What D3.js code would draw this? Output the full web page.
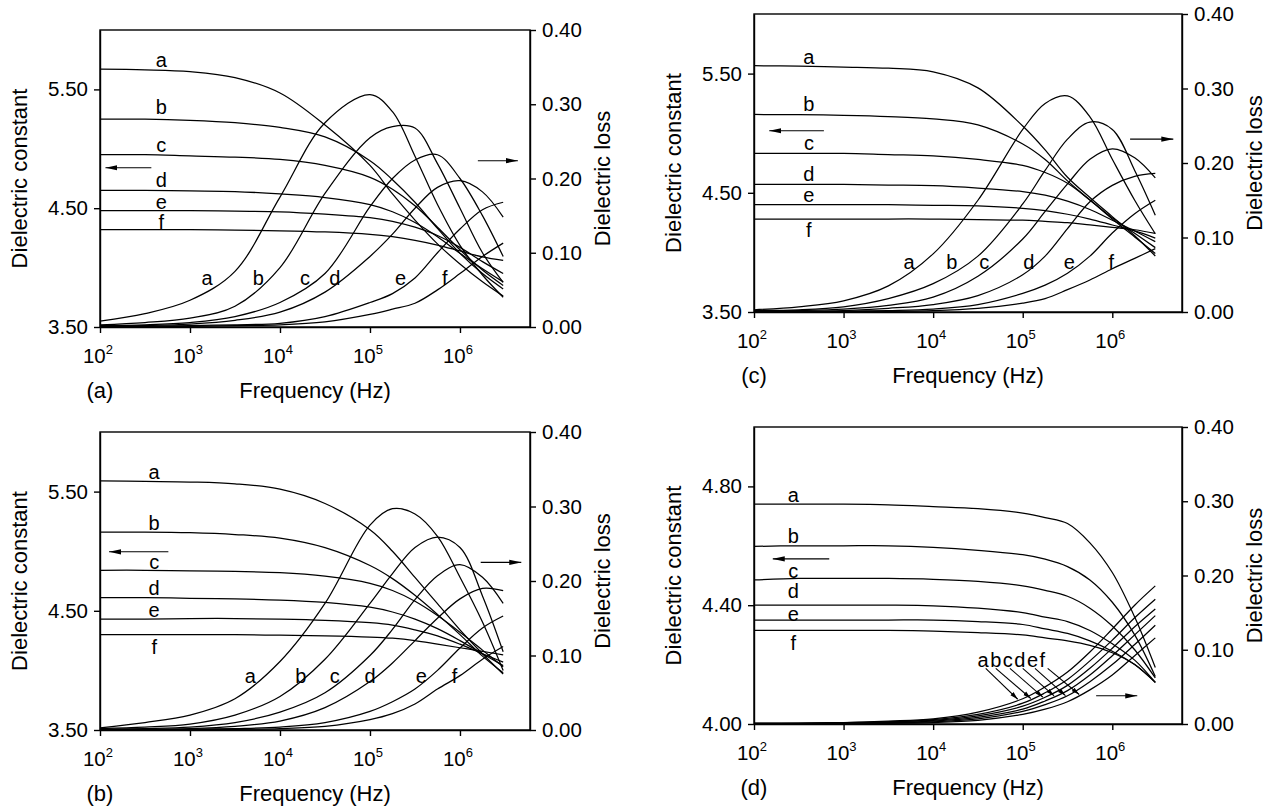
<!DOCTYPE html>
<meta charset="utf-8">
<style>
body { margin: 0; background: #fff; }
svg { display: block; }
text { font-family: "Liberation Sans", Arial, Helvetica, sans-serif; fill: #000; }
.tick text { font-size: 20.5px; }
.curve { fill: none; stroke: #000; stroke-width: 1.25px; }
.frame { fill: none; stroke: #000; stroke-width: 1.4px; }
.axis path, .axis line { stroke: #000; stroke-width: 1.4px; }
.lab { font-size: 20px; }
.title { font-size: 22px; }
.pointer { stroke: #000; stroke-width: 1.1px; }
</style>
<svg width="1282" height="810"></svg>
<script src="https://d3js.org/d3.v7.min.js"></script>
<script>

var svg = d3.select("svg");

var curveNames = ["a", "b", "c", "d", "e", "f"];

// common frequency grid (Hz), 10^2 ... ~3x10^6
var freqs = [100, 316, 1000, 3162, 10000, 31623, 100000, 177828, 316228, 562341, 1000000, 1778279, 3020000];

var freqTicks = [1e2, 1e3, 1e4, 1e5, 1e6];
var lossTicks = [0, 0.1, 0.2, 0.3, 0.4];
var constTicks = [3.5, 4.5, 5.5];
var constTicksD = [4.0, 4.4, 4.8];

// (a) dielectric constant / loss, curves a..f
var constA = [
  [5.67, 5.665, 5.65, 5.60, 5.47, 5.20, 4.86, 4.62, 4.40, 4.20, 4.03, 3.88, 3.76],
  [5.25, 5.25, 5.24, 5.22, 5.18, 5.10, 4.90, 4.74, 4.55, 4.33, 4.12, 3.95, 3.82],
  [4.95, 4.95, 4.94, 4.93, 4.91, 4.86, 4.76, 4.66, 4.52, 4.34, 4.15, 3.98, 3.85],
  [4.65, 4.65, 4.645, 4.64, 4.62, 4.59, 4.53, 4.47, 4.38, 4.26, 4.12, 3.99, 3.88],
  [4.48, 4.48, 4.48, 4.475, 4.47, 4.45, 4.42, 4.39, 4.34, 4.27, 4.17, 4.05, 3.95],
  [4.32, 4.32, 4.32, 4.315, 4.31, 4.30, 4.28, 4.26, 4.23, 4.19, 4.14, 4.09, 4.06]
];
var lossA = [
  [0.008, 0.018, 0.036, 0.075, 0.175, 0.275, 0.313, 0.29, 0.23, 0.165, 0.11, 0.07, 0.04],
  [0.003, 0.006, 0.012, 0.028, 0.08, 0.18, 0.255, 0.27, 0.268, 0.22, 0.16, 0.10, 0.06],
  [0.002, 0.003, 0.006, 0.014, 0.033, 0.072, 0.162, 0.20, 0.225, 0.232, 0.20, 0.15, 0.095],
  [0.001, 0.002, 0.004, 0.009, 0.02, 0.047, 0.095, 0.125, 0.16, 0.188, 0.197, 0.182, 0.148],
  [0.001, 0.001, 0.002, 0.003, 0.005, 0.014, 0.033, 0.045, 0.066, 0.10, 0.132, 0.158, 0.168],
  [0, 0, 0.001, 0.002, 0.003, 0.007, 0.017, 0.024, 0.032, 0.05, 0.072, 0.095, 0.113]
];

// (b)
var constB = [
  [5.59, 5.585, 5.58, 5.565, 5.52, 5.40, 5.18, 5.00, 4.78, 4.56, 4.34, 4.14, 3.97],
  [5.16, 5.16, 5.155, 5.14, 5.11, 5.03, 4.88, 4.77, 4.63, 4.47, 4.30, 4.12, 3.98],
  [4.84, 4.84, 4.835, 4.83, 4.82, 4.79, 4.73, 4.67, 4.58, 4.46, 4.32, 4.17, 4.03],
  [4.61, 4.61, 4.605, 4.60, 4.59, 4.57, 4.53, 4.49, 4.43, 4.35, 4.25, 4.14, 4.04],
  [4.43, 4.43, 4.435, 4.435, 4.43, 4.42, 4.40, 4.38, 4.34, 4.29, 4.22, 4.14, 4.07],
  [4.30, 4.30, 4.30, 4.30, 4.295, 4.29, 4.28, 4.27, 4.25, 4.22, 4.19, 4.16, 4.13]
];
var lossB = [
  [0.003, 0.01, 0.02, 0.042, 0.092, 0.17, 0.275, 0.297, 0.29, 0.26, 0.205, 0.145, 0.08],
  [0.002, 0.004, 0.008, 0.02, 0.045, 0.095, 0.17, 0.21, 0.245, 0.259, 0.245, 0.18, 0.105],
  [0.001, 0.002, 0.004, 0.01, 0.024, 0.05, 0.10, 0.135, 0.175, 0.207, 0.222, 0.205, 0.17],
  [0.001, 0.001, 0.002, 0.005, 0.012, 0.03, 0.065, 0.09, 0.12, 0.15, 0.176, 0.19, 0.187],
  [0, 0.001, 0.001, 0.002, 0.004, 0.01, 0.025, 0.038, 0.055, 0.08, 0.11, 0.137, 0.153],
  [0, 0, 0.001, 0.001, 0.002, 0.005, 0.014, 0.022, 0.035, 0.055, 0.073, 0.095, 0.112]
];

// (c)
var constC = [
  [5.566, 5.563, 5.555, 5.545, 5.515, 5.38, 5.06, 4.86, 4.63, 4.46, 4.30, 4.14, 3.97],
  [5.157, 5.155, 5.15, 5.14, 5.12, 5.07, 4.91, 4.78, 4.60, 4.44, 4.28, 4.13, 3.99],
  [4.83, 4.83, 4.83, 4.82, 4.81, 4.78, 4.73, 4.67, 4.58, 4.44, 4.29, 4.16, 4.04],
  [4.57, 4.57, 4.57, 4.565, 4.56, 4.54, 4.51, 4.48, 4.43, 4.36, 4.27, 4.18, 4.09],
  [4.40, 4.40, 4.40, 4.40, 4.395, 4.39, 4.37, 4.35, 4.32, 4.28, 4.23, 4.18, 4.12],
  [4.28, 4.28, 4.28, 4.28, 4.28, 4.275, 4.27, 4.26, 4.25, 4.23, 4.21, 4.19, 4.16]
];
var lossC = [
  [0.003, 0.007, 0.015, 0.035, 0.078, 0.15, 0.245, 0.28, 0.29, 0.262, 0.205, 0.15, 0.105],
  [0.002, 0.003, 0.007, 0.018, 0.038, 0.075, 0.145, 0.19, 0.232, 0.255, 0.245, 0.19, 0.13],
  [0.001, 0.002, 0.004, 0.009, 0.02, 0.048, 0.098, 0.135, 0.172, 0.205, 0.219, 0.207, 0.18],
  [0.001, 0.001, 0.002, 0.005, 0.01, 0.022, 0.05, 0.075, 0.112, 0.148, 0.17, 0.182, 0.186],
  [0.001, 0.001, 0.001, 0.002, 0.004, 0.01, 0.025, 0.036, 0.052, 0.075, 0.106, 0.132, 0.15],
  [0, 0, 0.001, 0.001, 0.002, 0.005, 0.012, 0.018, 0.03, 0.043, 0.058, 0.072, 0.085]
];

// (d)
var constD = [
  [4.74, 4.74, 4.74, 4.738, 4.732, 4.725, 4.71, 4.695, 4.675, 4.61, 4.51, 4.36, 4.19],
  [4.598, 4.60, 4.60, 4.60, 4.595, 4.585, 4.57, 4.555, 4.53, 4.485, 4.41, 4.30, 4.16],
  [4.485, 4.49, 4.49, 4.49, 4.487, 4.48, 4.465, 4.45, 4.43, 4.39, 4.33, 4.25, 4.155],
  [4.40, 4.40, 4.40, 4.40, 4.398, 4.39, 4.375, 4.36, 4.345, 4.315, 4.27, 4.215, 4.14],
  [4.35, 4.35, 4.35, 4.35, 4.35, 4.345, 4.335, 4.32, 4.305, 4.28, 4.245, 4.20, 4.14],
  [4.315, 4.315, 4.315, 4.315, 4.313, 4.308, 4.30, 4.29, 4.28, 4.265, 4.24, 4.20, 4.14]
];
var lossD = [
  [0.001, 0.001, 0.002, 0.004, 0.007, 0.016, 0.034, 0.05, 0.07, 0.097, 0.128, 0.16, 0.186],
  [0.001, 0.001, 0.002, 0.003, 0.006, 0.013, 0.028, 0.042, 0.06, 0.085, 0.113, 0.143, 0.168],
  [0.001, 0.001, 0.001, 0.003, 0.005, 0.011, 0.024, 0.036, 0.052, 0.075, 0.102, 0.131, 0.155],
  [0.001, 0.001, 0.001, 0.002, 0.004, 0.009, 0.02, 0.031, 0.045, 0.066, 0.092, 0.12, 0.146],
  [0, 0.001, 0.001, 0.002, 0.003, 0.007, 0.017, 0.026, 0.038, 0.057, 0.08, 0.107, 0.133],
  [0, 0, 0.001, 0.001, 0.002, 0.005, 0.013, 0.02, 0.03, 0.046, 0.066, 0.092, 0.116]
];

// curve-letter annotations (data units)
var constLabelA = [5.747, 5.352, 5.032, 4.737, 4.552, 4.384];
var constLabelB = [5.664, 5.237, 4.909, 4.691, 4.507, 4.196];
var constLabelC = [5.639, 5.245, 4.918, 4.658, 4.482, 4.188];
var constLabelD = [4.771, 4.633, 4.515, 4.447, 4.372, 4.273];
var lossLabelFreqA = [1550, 5750, 19000, 40700, 219000, 676000];
var lossLabelFreqB = [4680, 17000, 40700, 100000, 372000, 871000];
var lossLabelFreqC = [5370, 16200, 37200, 117000, 331000, 977000];
// (d): pointer lines from "abcdef" down to the loss curves
var pointerStartD = [38600, 50000, 72000, 100000, 137000, 190000];
var pointerTipD = [88000, 123000, 168000, 224000, 300000, 427000];

var panels = [
  { tag: "(a)", left: 100, right: 530, top: 30, bottom: 327,
    cDomain: [3.5, 6.0], cTicks: constTicks, cons: constA, loss: lossA,
    cLabF: 480, cLab: constLabelA, lLabF: lossLabelFreqA, lLab: 0.066,
    arrowL: [372, 115, 4.84], arrowR: [1.58e6, 4.4e6, 0.224] },
  { tag: "(b)", left: 100, right: 530, top: 432, bottom: 730,
    cDomain: [3.5, 6.0], cTicks: constTicks, cons: constB, loss: lossB,
    cLabF: 400, cLab: constLabelB, lLabF: lossLabelFreqB, lLab: 0.072,
    arrowL: [575, 126, 4.995], arrowR: [1.7e6, 4.8e6, 0.225] },
  { tag: "(c)", left: 754, right: 1182, top: 14, bottom: 312,
    cDomain: [3.5, 6.0], cTicks: constTicks, cons: constC, loss: lossC,
    cLabF: 410, cLab: constLabelC, lLabF: lossLabelFreqC, lLab: 0.067,
    arrowL: [603, 148, 5.02], arrowR: [1.58e6, 4.8e6, 0.232] },
  { tag: "(d)", left: 754, right: 1182, top: 427, bottom: 724,
    cDomain: [4.0, 5.0], cTicks: constTicksD, cons: constD, loss: lossD,
    cLabF: 275, cLab: constLabelD, lLabF: null, lLab: 0.086,
    arrowL: [692, 162, 4.556], arrowR: [6.6e5, 1.9e6, 0.038] }
];

var defs = svg.append("defs");
defs.append("marker")
    .attr("id", "head")
    .attr("viewBox", "0 0 12 6")
    .attr("refX", 12).attr("refY", 3)
    .attr("markerUnits", "userSpaceOnUse")
    .attr("markerWidth", 12).attr("markerHeight", 6)
    .attr("orient", "auto")
  .append("path").attr("d", "M0,0.4L12,3L0,5.6Z");
defs.append("marker")
    .attr("id", "small")
    .attr("viewBox", "0 0 8 5")
    .attr("refX", 8).attr("refY", 2.5)
    .attr("markerUnits", "userSpaceOnUse")
    .attr("markerWidth", 8).attr("markerHeight", 5)
    .attr("orient", "auto")
  .append("path").attr("d", "M0,0.3L8,2.5L0,4.7Z");

// linear interpolation of a curve on the log-frequency grid
function valueAt(series, f) {
  var lf = Math.log10(f);
  for (var i = 1; i < freqs.length; i++) {
    var l0 = Math.log10(freqs[i - 1]), l1 = Math.log10(freqs[i]);
    if (lf <= l1) return series[i - 1] + (series[i] - series[i - 1]) * (lf - l0) / (l1 - l0);
  }
  return series[series.length - 1];
}

panels.forEach(drawPanel);

function drawPanel(p) {
  var g = svg.append("g");
  var x = d3.scaleLog().domain([100, 6e6]).range([p.left, p.right]);
  var yC = d3.scaleLinear().domain(p.cDomain).range([p.bottom, p.top]);
  var yL = d3.scaleLinear().domain([0, 0.4]).range([p.bottom, p.top]);

  g.append("rect").attr("class", "frame")
      .attr("x", p.left).attr("y", p.top)
      .attr("width", p.right - p.left).attr("height", p.bottom - p.top);

  // bottom axis, labels are drawn by hand for the superscripts
  g.append("g").attr("class", "axis")
      .attr("transform", "translate(0," + p.bottom + ")")
      .call(d3.axisBottom(x).tickValues(freqTicks).tickSize(6).tickSizeOuter(0).tickFormat(""));

  var xl = g.append("g").selectAll("text")
      .data(freqTicks)
      .enter().append("text")
      .attr("x", function(d) { return x(d) - 2; })
      .attr("y", p.bottom + 36)
      .attr("text-anchor", "middle")
      .style("font-size", "20.5px");
  xl.append("tspan").text("10");
  xl.append("tspan")
      .attr("dy", -9)
      .style("font-size", "13px")
      .text(function(d) { return Math.round(Math.log10(d)); });

  var la = g.append("g").attr("class", "axis")
      .attr("transform", "translate(" + p.left + ",0)")
      .call(d3.axisLeft(yC).tickValues(p.cTicks).tickSize(6).tickSizeOuter(0)
          .tickPadding(6).tickFormat(d3.format(".2f")));
  var ra = g.append("g").attr("class", "axis")
      .attr("transform", "translate(" + p.right + ",0)")
      .call(d3.axisRight(yL).tickValues(lossTicks).tickSize(6).tickSizeOuter(0)
          .tickPadding(6).tickFormat(d3.format(".2f")));
  [la, ra].forEach(function(a) { a.attr("font-family", null).attr("font-size", null); });

  var lineC = d3.line()
      .x(function(d, i) { return x(freqs[i]); })
      .y(function(d) { return yC(d); })
      .curve(d3.curveCatmullRom.alpha(0.5));
  var lineL = d3.line()
      .x(function(d, i) { return x(freqs[i]); })
      .y(function(d) { return yL(d); })
      .curve(d3.curveCatmullRom.alpha(0.5));

  g.append("g").selectAll("path.c")
      .data(p.cons)
      .enter().append("path")
      .attr("class", "curve")
      .attr("d", lineC);
  g.append("g").selectAll("path.l")
      .data(p.loss)
      .enter().append("path")
      .attr("class", "curve")
      .attr("d", lineL);

  // curve letters on the dielectric constant side
  g.append("g").selectAll("text")
      .data(curveNames)
      .enter().append("text")
      .attr("class", "lab")
      .attr("x", x(p.cLabF))
      .attr("y", function(d, i) { return yC(p.cLab[i]); })
      .attr("dy", "0.35em")
      .attr("text-anchor", "middle")
      .text(function(d) { return d; });

  // curve letters on the loss side
  if (p.lLabF) {
    g.append("g").selectAll("text")
        .data(curveNames)
        .enter().append("text")
        .attr("class", "lab")
        .attr("x", function(d, i) { return x(p.lLabF[i]); })
        .attr("y", yL(p.lLab))
        .attr("dy", "0.35em")
        .attr("text-anchor", "middle")
        .text(function(d) { return d; });
  } else {
    g.append("text")
        .attr("class", "lab")
        .attr("x", x(76000))
        .attr("y", yL(p.lLab))
        .attr("dy", "0.35em")
        .attr("text-anchor", "middle")
        .attr("letter-spacing", "1.5px")
        .text(curveNames.join(""));
    g.append("g").selectAll("line")
        .data(p.loss)
        .enter().append("line")
        .attr("class", "pointer")
        .attr("x1", function(d, i) { return x(pointerStartD[i]); })
        .attr("y1", yL(0.075))
        .attr("x2", function(d, i) { return x(pointerTipD[i]); })
        .attr("y2", function(d, i) { return yL(valueAt(d, pointerTipD[i])) - 1; })
        .attr("marker-end", "url(#small)");
  }

  // arrows telling which axis belongs to which family
  g.append("line").attr("class", "pointer")
      .attr("x1", x(p.arrowL[0])).attr("x2", x(p.arrowL[1]))
      .attr("y1", yC(p.arrowL[2])).attr("y2", yC(p.arrowL[2]))
      .attr("marker-end", "url(#head)");
  g.append("line").attr("class", "pointer")
      .attr("x1", x(p.arrowR[0])).attr("x2", x(p.arrowR[1]))
      .attr("y1", yL(p.arrowR[2])).attr("y2", yL(p.arrowR[2]))
      .attr("marker-end", "url(#head)");

  var midY = (p.top + p.bottom) / 2;
  g.append("text").attr("class", "title")
      .attr("transform", "translate(" + (p.left - 81) + "," + midY + ") rotate(-90)")
      .attr("dy", "0.35em")
      .attr("text-anchor", "middle")
      .text("Dielectric constant");
  g.append("text").attr("class", "title")
      .attr("transform", "translate(" + (p.right + 72) + "," + midY + ") rotate(-90)")
      .attr("dy", "0.35em")
      .attr("text-anchor", "middle")
      .text("Dielectric loss");
  g.append("text").attr("class", "title")
      .attr("x", (p.left + p.right) / 2)
      .attr("y", p.bottom + 63)
      .attr("dy", "0.35em")
      .attr("text-anchor", "middle")
      .text("Frequency (Hz)");
  g.append("text").attr("class", "title")
      .attr("x", p.left)
      .attr("y", p.bottom + 63)
      .attr("dy", "0.35em")
      .attr("text-anchor", "middle")
      .text(p.tag);
}

</script>
